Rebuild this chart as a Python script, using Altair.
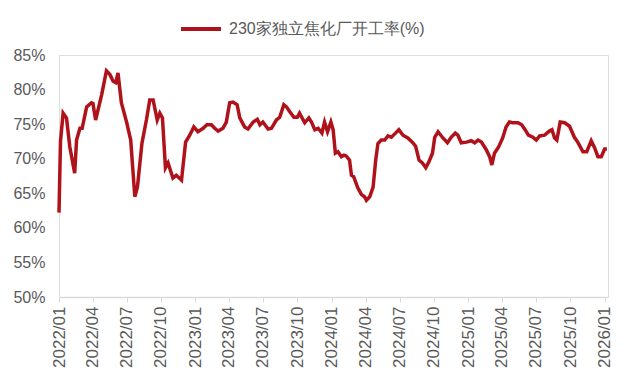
import altair as alt
import pandas as pd

series_name = "230家独立焦化厂开工率(%)"

dates = [
    "2022-01-01", "2022-01-05", "2022-01-12", "2022-01-21", "2022-01-30", "2022-02-12", "2022-02-17",
    "2022-02-26", "2022-03-04", "2022-03-16", "2022-03-29", "2022-04-02", "2022-04-09", "2022-04-25",
    "2022-05-08", "2022-05-17", "2022-05-26", "2022-06-02", "2022-06-08", "2022-06-17", "2022-07-01",
    "2022-07-12", "2022-07-23", "2022-07-30", "2022-08-11", "2022-08-23", "2022-09-01", "2022-09-10",
    "2022-09-21", "2022-09-28", "2022-10-05", "2022-10-13", "2022-10-20", "2022-11-02", "2022-11-11",
    "2022-11-25", "2022-12-06", "2022-12-17", "2022-12-28", "2023-01-08", "2023-01-22", "2023-02-01",
    "2023-02-13", "2023-02-22", "2023-03-03", "2023-03-16", "2023-03-25", "2023-04-03", "2023-04-12",
    "2023-04-23", "2023-04-30", "2023-05-13", "2023-05-22", "2023-06-05", "2023-06-16", "2023-06-23",
    "2023-07-01", "2023-07-15", "2023-07-24", "2023-08-06", "2023-08-15", "2023-08-26", "2023-09-02",
    "2023-09-11", "2023-09-22", "2023-10-01", "2023-10-07", "2023-10-21", "2023-11-01", "2023-11-08",
    "2023-11-17", "2023-11-26", "2023-12-06", "2023-12-13", "2023-12-21", "2023-12-30", "2024-01-05",
    "2024-01-11", "2024-01-18", "2024-01-27", "2024-02-03", "2024-02-09", "2024-02-18", "2024-02-23",
    "2024-02-29", "2024-03-11", "2024-03-21", "2024-03-29", "2024-04-03", "2024-04-12", "2024-04-21",
    "2024-04-28", "2024-05-04", "2024-05-13", "2024-05-22", "2024-05-31", "2024-06-09", "2024-06-20",
    "2024-06-29", "2024-07-10", "2024-07-23", "2024-08-04", "2024-08-13", "2024-08-22", "2024-08-31",
    "2024-09-09", "2024-09-17", "2024-09-27", "2024-10-03", "2024-10-12", "2024-10-25", "2024-11-06",
    "2024-11-16", "2024-11-27", "2024-12-04", "2024-12-13", "2024-12-27", "2025-01-09", "2025-01-18",
    "2025-01-27", "2025-02-05", "2025-02-18", "2025-02-27", "2025-03-05", "2025-03-12", "2025-03-23",
    "2025-04-03", "2025-04-12", "2025-04-21", "2025-04-30", "2025-05-14", "2025-05-24", "2025-06-02",
    "2025-06-11", "2025-06-23", "2025-07-02", "2025-07-11", "2025-07-24", "2025-08-06", "2025-08-13",
    "2025-08-20", "2025-08-26", "2025-09-04", "2025-09-16", "2025-09-29", "2025-10-12", "2025-10-21",
    "2025-11-04", "2025-11-14", "2025-11-26", "2025-12-05", "2025-12-14", "2025-12-23", "2026-01-01",
    "2026-01-07",
]

rates = [
    62.2, 72.5, 76.6, 75.9, 71.7, 67.9, 72.7,
    74.4, 74.4, 77.5, 78.1, 78.0, 75.6, 79.2,
    82.7, 82.2, 81.2, 81.0, 82.4, 78.1, 75.3,
    72.7, 64.5, 65.9, 72.2, 75.6, 78.5, 78.5,
    75.6, 76.6, 75.9, 68.7, 69.4, 67.2, 67.6,
    66.9, 72.4, 73.4, 74.6, 73.9, 74.4, 74.9,
    74.9, 74.4, 74.0, 74.4, 75.3, 78.1, 78.2,
    77.8, 75.9, 74.6, 74.3, 75.3, 75.7, 74.9,
    75.3, 74.3, 74.4, 75.6, 76.0, 77.8, 77.5,
    76.8, 76.0, 76.0, 76.6, 75.2, 75.9, 75.3,
    74.2, 74.4, 73.7, 75.3, 73.9, 75.3, 74.2,
    70.8, 71.0, 70.3, 70.5, 70.4, 69.8, 67.6,
    67.4, 65.8, 64.8, 64.5, 64.0, 64.5, 65.9,
    69.8, 72.2, 72.7, 72.7, 73.3, 73.1, 73.7,
    74.2, 73.4, 73.0, 72.4, 71.8, 69.8, 69.4,
    68.7, 69.5, 70.8, 73.1, 73.9, 73.0, 72.3,
    73.1, 73.7, 73.4, 72.3, 72.4, 72.6, 72.3,
    72.7, 72.4, 71.3, 70.3, 69.1, 70.8, 71.7,
    73.0, 74.6, 75.3, 75.2, 75.2, 74.9, 74.2,
    73.4, 73.1, 72.7, 73.3, 73.4, 74.0, 74.2,
    73.0, 72.7, 75.3, 75.2, 74.7, 73.1, 72.4,
    71.0, 71.0, 72.6, 71.6, 70.3, 70.3, 71.4,
    71.4,
]

tick_dates = [
    "2022-01-01", "2022-04-01", "2022-07-01", "2022-10-01",
    "2023-01-01", "2023-04-01", "2023-07-01", "2023-10-01",
    "2024-01-01", "2024-04-01", "2024-07-01", "2024-10-01",
    "2025-01-01", "2025-04-01", "2025-07-01", "2025-10-01",
    "2026-01-01",
]
y_ticks = [50, 55, 60, 65, 70, 75, 80, 85]

df = pd.DataFrame({"date": dates, "rate": [r / 100 for r in rates], "series": series_name})

font = "Liberation Sans"
grey = "#595959"

chart = alt.Chart(df).mark_line(strokeWidth=3.5, color="#B0121B").encode(
    x=alt.X(
        "date:T",
        scale=alt.Scale(domain=["2022-01-01", "2026-01-10"]),
        axis=alt.Axis(
            values=[alt.DateTime(year=int(d[:4]), month=int(d[5:7]), date=1) for d in tick_dates],
            labelExpr="timeFormat(datum.value, '%Y/%m')",
            labelAngle=-90,
            labelAlign="right",
            labelBaseline="middle",
            labelFont=font,
            labelFontSize=17,
            labelColor=grey,
            labelPadding=4,
            domainColor="#D9D9D9",
            domainWidth=1.5,
            tickColor="#D9D9D9",
            tickSize=5,
            grid=False,
            title=None,
            labelOverlap=False,
            labelFlush=False,
        ),
    ),
    y=alt.Y(
        "rate:Q",
        scale=alt.Scale(domain=[0.5, 0.85], nice=False, zero=False),
        axis=alt.Axis(
            values=[v / 100 for v in y_ticks],
            format=".0%",
            labelFont=font,
            labelFontSize=16,
            labelColor=grey,
            labelPadding=14,
            domain=False,
            ticks=False,
            grid=False,
            title=None,
        ),
    ),
    color=alt.Color(
        "series:N",
        scale=alt.Scale(range=["#B0121B"]),
        legend=alt.Legend(
            title=None,
            orient="none",
            legendX=120,
            legendY=-48,
            symbolType="stroke",
            symbolSize=1600,
            symbolStrokeWidth=4,
            labelFont=font,
            labelFontSize=16,
            labelColor=grey,
            labelOffset=6,
            labelLimit=0,
        ),
    ),
).properties(
    width=549,
    height=242,
    autosize=alt.AutoSizeParams(type="none"),
    padding={"left": 51, "top": 47, "right": 10, "bottom": 80},
).configure_view(stroke=None).configure(background="white")

chart.save("out.html", embed_options={"renderer": "svg", "actions": False})
